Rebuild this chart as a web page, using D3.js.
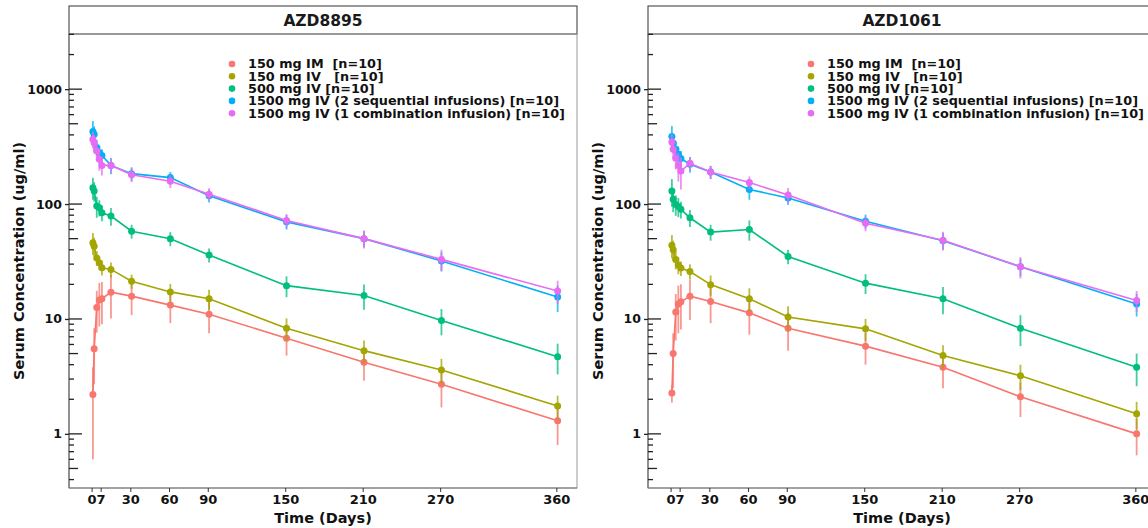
<!DOCTYPE html>
<html>
<head>
<meta charset="utf-8">
<script src="https://cdn.jsdelivr.net/npm/d3@7"></script>
<style>
body { margin:0; background:#fff; }
text { font-family: "DejaVu Sans", sans-serif; font-weight: bold; }
</style>
</head>
<body>
<div id="my_viz"></div>
<script>
// sampling days (day 1 = dosing day)
const days = [1, 2, 4, 6, 8, 15, 31, 61, 91, 151, 211, 271, 361]
const tick_days = [0, 7, 30, 60, 90, 150, 210, 270, 360]
const y_ticks = [1, 10, 100, 1000]
const groups = ["150 mg IM  [n=10]", "150 mg IV   [n=10]", "500 mg IV [n=10]",
  "1500 mg IV (2 sequential infusions) [n=10]", "1500 mg IV (1 combination infusion) [n=10]"]
const panel_titles = ["AZD8895", "AZD1061"]

// AZD8895 means / sd
const a8895_im150 = [2.2, 5.5, 12.6, 14.6, 15, 17.1, 15.8, 13.2, 11, 6.8, 4.2, 2.7, 1.3]
const a8895_im150_sd = [1.6, 2.8, 5, 6, 6, 7, 5, 4, 3.5, 2, 1.3, 1, 0.5]
const a8895_iv150 = [46, 43, 34, 30.8, 27.9, 27, 21.3, 17.2, 15, 8.3, 5.3, 3.6, 1.75]
const a8895_iv150_sd = [10, 8, 5, 4, 4, 4, 3, 3, 3, 1.8, 1.2, 0.9, 0.4]
const a8895_iv500 = [139, 130, 96, 93, 84, 78.6, 58, 50, 36, 19.5, 16, 9.7, 4.7]
const a8895_iv500_sd = [30, 25, 20, 15, 13, 14, 8, 7, 5, 4, 4, 2.5, 1.4]
const a8895_seq1500 = [428, 405, 311, 280, 265, 217, 184, 170, 118, 70, 50, 32, 15.5]
const a8895_seq1500_sd = [100, 70, 50, 40, 35, 35, 25, 20, 15, 10, 8, 6, 4]
const a8895_comb1500 = [366, 340, 290, 245, 217, 217, 180, 158, 122, 72, 50, 33, 17.5]
const a8895_comb1500_sd = [60, 60, 50, 50, 40, 30, 25, 20, 15, 10, 9, 7, 4]

// AZD1061 means / sd
const a1061_im150 = [2.27, 5.0, 11.5, 13.5, 14.1, 15.8, 14.2, 11.3, 8.3, 5.8, 3.8, 2.1, 1.0]
const a1061_im150_sd = [0.4, 2.5, 5, 6, 6, 6, 5, 4, 3, 1.8, 1.3, 0.7, 0.35]
const a1061_iv150 = [43.7, 40, 33, 29.5, 27.7, 25.9, 19.9, 15, 10.4, 8.2, 4.8, 3.2, 1.5]
const a1061_iv150_sd = [10, 8, 6, 5, 4, 4, 4, 3.5, 2.5, 1.8, 1.1, 0.8, 0.4]
const a1061_iv500 = [130, 110, 99, 95, 90, 76, 57, 60, 35, 20.5, 15, 8.3, 3.8]
const a1061_iv500_sd = [35, 25, 20, 18, 15, 13, 9, 12, 5, 4, 4, 2.5, 1.2]
const a1061_seq1500 = [387, 340, 300, 271, 249, 222, 190, 134, 113, 71, 48, 28.5, 13.5]
const a1061_seq1500_sd = [90, 60, 50, 45, 40, 35, 25, 25, 15, 10, 8, 5, 3]
const a1061_comb1500 = [347, 300, 250, 217, 194, 226, 190, 154, 120, 68, 48.5, 28.5, 14.5]
const a1061_comb1500_sd = [60, 50, 50, 60, 60, 30, 25, 20, 18, 10, 9, 6, 3]

const colors = ["#F8766D", "#A3A500", "#00BF7D", "#00B0F6", "#E76BF3"]

const panels = [
  {title: panel_titles[0], left: 69,
   means: [a8895_im150, a8895_iv150, a8895_iv500, a8895_seq1500, a8895_comb1500],
   sds: [a8895_im150_sd, a8895_iv150_sd, a8895_iv500_sd, a8895_seq1500_sd, a8895_comb1500_sd]},
  {title: panel_titles[1], left: 648,
   means: [a1061_im150, a1061_iv150, a1061_iv500, a1061_seq1500, a1061_comb1500],
   sds: [a1061_im150_sd, a1061_iv150_sd, a1061_iv500_sd, a1061_seq1500_sd, a1061_comb1500_sd]}
]

const width = 1148
const height = 528
const panel_w = 508
const strip = {top: 6, bottom: 34}
const plot_top = 34
const plot_bottom = 488

var svg = d3.select("#my_viz")
  .append("svg")
  .attr("width", width)
  .attr("height", height)

panels.forEach((p, pi) => {
  var g = svg.append("g").attr("transform", "translate(" + p.left + ",0)")

  var x = d3.scaleLinear().domain([-17.5, 376]).range([0, panel_w])
  var y = d3.scaleLog().domain([0.338, 3020]).range([plot_bottom, plot_top])

  // strip
  g.append("rect")
    .attr("x", 0).attr("y", strip.top)
    .attr("width", panel_w).attr("height", strip.bottom - strip.top)
    .attr("fill", "#fff").attr("stroke", "#333").attr("stroke-width", 1)
  g.append("text")
    .attr("x", panel_w / 2).attr("y", 26)
    .attr("text-anchor", "middle")
    .style("font-size", "15.5px").attr("fill", "#1a1a1a")
    .text(p.title)

  // panel border
  g.append("rect")
    .attr("x", 0).attr("y", plot_top)
    .attr("width", panel_w).attr("height", plot_bottom - plot_top)
    .attr("fill", "none").attr("stroke", "#999")
  g.append("line").attr("x1", 0).attr("x2", 0).attr("y1", plot_top).attr("y2", plot_bottom)
    .attr("stroke", "#555")
  g.append("line").attr("x1", 0).attr("x2", panel_w).attr("y1", plot_bottom).attr("y2", plot_bottom)
    .attr("stroke", "#777")

  // log ticks inside the panel
  var logticks = []
  for (let e = -1; e <= 3; e++) {
    for (let m = 1; m <= 9; m++) {
      let v = m * Math.pow(10, e)
      if (v >= 0.338 && v <= 3020) logticks.push({v: v, m: m})
    }
  }
  g.selectAll(".logtick")
    .data(logticks)
    .enter()
    .append("line")
    .attr("class", "logtick")
    .attr("x1", 0)
    .attr("x2", d => d.m == 1 ? 13 : (d.m == 5 ? 9 : 5))
    .attr("y1", d => y(d.v)).attr("y2", d => y(d.v))
    .attr("stroke", "#222").attr("stroke-width", 1.3)

  // y axis
  var yAxis = g.append("g")
    .call(d3.axisLeft(y).tickValues(y_ticks).tickFormat(d3.format("d")).tickSize(4).tickPadding(3))
  yAxis.select(".domain").remove()
  yAxis.selectAll(".tick line").attr("stroke", "#222").attr("stroke-width", 1.3)
  yAxis.selectAll(".tick text").style("font-size", "12.5px").attr("fill", "#111")
    .style("font-family", "DejaVu Sans").style("font-weight", "bold")

  // x axis
  var xAxis = g.append("g")
    .attr("transform", "translate(0," + plot_bottom + ")")
    .call(d3.axisBottom(x).tickValues(tick_days).tickSize(4).tickPadding(3))
  xAxis.select(".domain").remove()
  xAxis.selectAll(".tick line").attr("stroke", "#333")
  xAxis.selectAll(".tick text").style("font-size", "13px").attr("fill", "#111")
    .style("font-family", "DejaVu Sans").style("font-weight", "bold")

  // axis titles
  g.append("text")
    .attr("x", panel_w / 2).attr("y", 523)
    .attr("text-anchor", "middle")
    .style("font-size", "14.5px").attr("fill", "#111")
    .text("Time (Days)")
  g.append("text")
    .attr("transform", "translate(-45," + (plot_top + plot_bottom) / 2 + ") rotate(-90)")
    .attr("text-anchor", "middle")
    .style("font-size", "14.5px").attr("fill", "#111")
    .text("Serum Concentration (ug/ml)")

  // data
  var clipId = "clip" + pi
  g.append("clipPath").attr("id", clipId)
    .append("rect").attr("x", 0).attr("y", plot_top)
    .attr("width", panel_w).attr("height", plot_bottom - plot_top)
  var plot = g.append("g").attr("clip-path", "url(#" + clipId + ")")

  var line = d3.line()
    .x(d => x(d.t))
    .y(d => y(d.m))

  groups.forEach((name, gi) => {
    var pts = days.map((t, i) => ({t: t, m: p.means[gi][i], sd: p.sds[gi][i]}))
    plot.append("path")
      .datum(pts)
      .attr("d", line)
      .attr("fill", "none")
      .attr("stroke", colors[gi])
      .attr("stroke-width", 1.6)
    plot.selectAll(".err" + gi)
      .data(pts)
      .enter()
      .append("line")
      .attr("class", "err" + gi)
      .attr("x1", d => x(d.t)).attr("x2", d => x(d.t))
      .attr("y1", d => y(Math.max(d.m - d.sd, 0.2)))
      .attr("y2", d => y(d.m + d.sd))
      .attr("stroke", colors[gi])
      .attr("stroke-width", 1.8)
      .attr("opacity", 0.75)
    plot.selectAll(".pt" + gi)
      .data(pts)
      .enter()
      .append("circle")
      .attr("class", "pt" + gi)
      .attr("cx", d => x(d.t))
      .attr("cy", d => y(d.m))
      .attr("r", 3.5)
      .attr("fill", colors[gi])
  })

  // legend
  var legend = g.append("g").attr("transform", "translate(163,64)")
  var item = legend.selectAll(".legend")
    .data(groups)
    .enter()
    .append("g")
    .attr("class", "legend")
    .attr("transform", (d, i) => "translate(0," + i * 12.3 + ")")
  item.append("circle")
    .attr("cx", 0).attr("cy", 0).attr("r", 3.3)
    .attr("fill", (d, i) => colors[i])
  item.append("text")
    .attr("x", 16).attr("y", 0)
    .attr("dy", "0.35em")
    .style("font-size", "12.8px")
    .style("white-space", "pre")
    .attr("xml:space", "preserve")
    .attr("fill", "#111")
    .text(d => d)
})
</script>
</body>
</html>
